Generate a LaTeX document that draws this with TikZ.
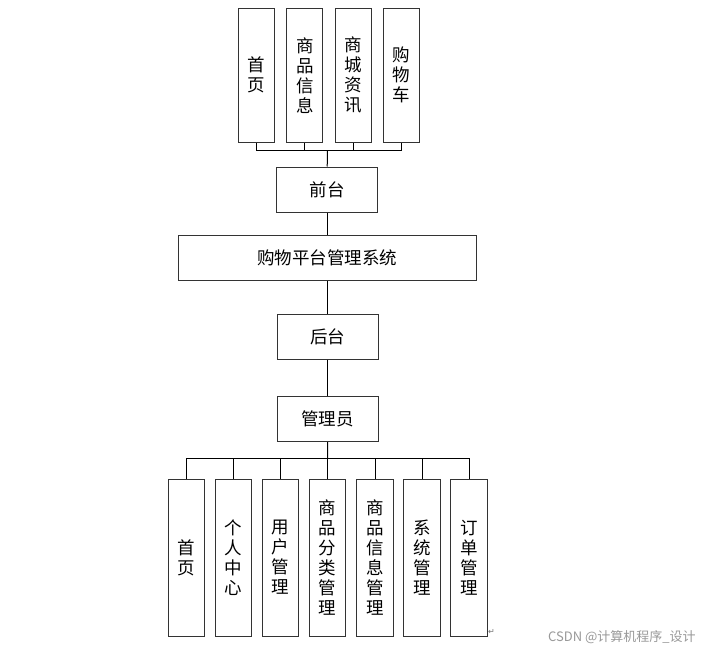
\documentclass[tikz,border=0pt]{standalone}
\usepackage{fontspec}
\setmainfont{Noto Sans CJK SC}
\newfontfamily\symfont{DejaVu Sans}
\begin{document}
\begin{tikzpicture}[x=1pt,y=-1pt,
  box/.style={draw=black!80,line width=1pt,inner sep=0pt,align=center,
    font=\fontsize{17.5pt}{20pt}\selectfont},
  topbox/.style={box,minimum width=36pt,minimum height=134.5pt},
  botbox/.style={box,minimum width=36.3pt,minimum height=157pt},
  midbox/.style={box,minimum width=101pt,minimum height=45pt},
  conn/.style={draw=black,line width=1pt}]
\fill[white] (0,0) rectangle (707,651);
\useasboundingbox (0,0) rectangle (707,651);
% top row
\node[topbox] (t1) at (256.3,75.3) {首\\页};
\node[topbox] (t2) at (304.8,75.3) {商\\品\\信\\息};
\node[topbox] (t3) at (353.5,75.3) {商\\城\\资\\讯};
\node[topbox] (t4) at (401.7,75.3) {购\\物\\车};
\node[midbox] (qt) at (327.2,189.5) {前台};
\node[box,minimum width=298pt,minimum height=44.3pt] (sys) at (327.3,257.9) {购物平台管理系统};
\node[midbox] (ht) at (327.5,336.5) {后台};
\node[midbox] (gly) at (327.5,419.2) {管理员};
% bottom row
\node[botbox] (b1) at (186.2,557.5) {首\\页};
\node[botbox] (b2) at (233.3,557.5) {个\\人\\中\\心};
\node[botbox] (b3) at (280.5,557.5) {用\\户\\管\\理};
\node[botbox] (b4) at (327.7,557.5) {商\\品\\分\\类\\管\\理};
\node[botbox] (b5) at (375.0,557.5) {商\\品\\信\\息\\管\\理};
\node[botbox] (b6) at (422.0,557.5) {系\\统\\管\\理};
\node[botbox] (b7) at (469.0,557.5) {订\\单\\管\\理};
% connectors
\coordinate (tbus) at (327.5,150.7);
\coordinate (bbus) at (327.7,458.3);
\foreach \n in {t1,t2,t3,t4} \draw[conn] (\n.south) |- (tbus);
\draw[conn] (tbus) -- (qt.north);
\draw[conn] (qt.south) -- (sys.north -| qt.south);
\draw[conn] (sys.south -| ht.north) -- (ht.north);
\draw[conn] (ht.south) -- (gly.north);
\draw[conn] (gly.south) -- (bbus);
\foreach \n in {b1,b2,b3,b4,b5,b6,b7} \draw[conn] (\n.north) |- (bbus);
% marks
\node[anchor=west,inner sep=0pt,text=black!55,font=\symfont\fontsize{8pt}{8pt}\selectfont] (pm) at (488,632) {↵};
\node[anchor=west,inner sep=0pt,text=black!40,font=\fontsize{13pt}{14pt}\selectfont] (wm) at (548,637) {CSDN @计算机程序\_设计};
\end{tikzpicture}
\end{document}
